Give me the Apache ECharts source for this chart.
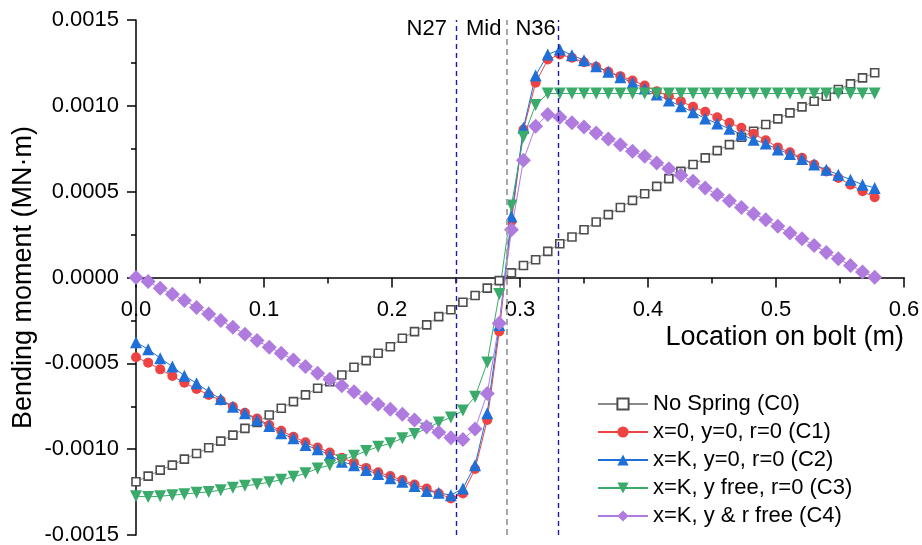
<!DOCTYPE html>
<html>
<head>
<meta charset="utf-8">
<script src="https://cdn.jsdelivr.net/npm/echarts@6/dist/echarts.min.js"></script>
<style>
html, body { margin: 0; padding: 0; background: #fff; }
#chart { width: 922px; height: 545px; }
</style>
</head>
<body>
<div id="chart"></div>
<script>
// location on bolt (m), one entry per node
const xLoc = [
  0, 0.0095, 0.0189, 0.0284, 0.0378, 0.0473, 0.0568, 0.0662, 0.0757, 0.0851,
  0.0946, 0.1041, 0.1135, 0.1230, 0.1324, 0.1419, 0.1514, 0.1608, 0.1703, 0.1798,
  0.1892, 0.1987, 0.2081, 0.2176, 0.2271, 0.2365, 0.2460, 0.2554, 0.2649, 0.2744,
  0.2838, 0.2933, 0.3027, 0.3122, 0.3217, 0.3311, 0.3406, 0.3500, 0.3595, 0.3690,
  0.3784, 0.3879, 0.3974, 0.4068, 0.4163, 0.4257, 0.4352, 0.4447, 0.4541, 0.4636,
  0.4730, 0.4825, 0.4920, 0.5014, 0.5109, 0.5203, 0.5298, 0.5393, 0.5487, 0.5582,
  0.5676, 0.5771
]

// bending moment (MN·m)
const c0 = [
  -0.001190, -0.001157, -0.001122, -0.001093, -0.001058, -0.001025, -0.000992, -0.000953, -0.000918, -0.000879,
  -0.000845, -0.000801, -0.000762, -0.000723, -0.000684, -0.000645, -0.000607, -0.000568, -0.000523, -0.000484,
  -0.000441, -0.000403, -0.000354, -0.000315, -0.000276, -0.000228, -0.000188, -0.000144, -0.000105, -0.000062,
  -0.000018, 0.000027, 0.000070, 0.000103, 0.000152, 0.000197, 0.000236, 0.000278, 0.000323, 0.000366,
  0.000408, 0.000449, 0.000488, 0.000531, 0.000576, 0.000618, 0.000658, 0.000697, 0.000739, 0.000774,
  0.000817, 0.000852, 0.000891, 0.000924, 0.000959, 0.000994, 0.001027, 0.001056, 0.001095, 0.001128,
  0.001163, 0.001193
]
const c1 = [
  -0.000465, -0.000496, -0.000535, -0.000574, -0.000613, -0.000649, -0.000684, -0.000717, -0.000753, -0.000788,
  -0.000822, -0.000859, -0.000893, -0.000928, -0.000960, -0.000990, -0.001019, -0.001050, -0.001079, -0.001109,
  -0.001135, -0.001157, -0.001180, -0.001206, -0.001229, -0.001258, -0.001287, -0.001258, -0.001116, -0.000830,
  -0.000315, 0.000327, 0.000862, 0.001134, 0.001270, 0.001299, 0.001280, 0.001254, 0.001227, 0.001198,
  0.001173, 0.001148, 0.001118, 0.001085, 0.001056, 0.001027, 0.000994, 0.000965, 0.000934, 0.000901,
  0.000872, 0.000837, 0.000800, 0.000758, 0.000729, 0.000697, 0.000658, 0.000618, 0.000580, 0.000541,
  0.000502, 0.000467
]
const c2 = [
  -0.000377, -0.000418, -0.000470, -0.000519, -0.000572, -0.000616, -0.000665, -0.000708, -0.000753, -0.000791,
  -0.000830, -0.000865, -0.000908, -0.000937, -0.000976, -0.001001, -0.001034, -0.001073, -0.001093, -0.001122,
  -0.001145, -0.001170, -0.001190, -0.001215, -0.001243, -0.001254, -0.001268, -0.001229, -0.001093, -0.000791,
  -0.000276, 0.000356, 0.000872, 0.001177, 0.001299, 0.001328, 0.001295, 0.001266, 0.001231, 0.001198,
  0.001167, 0.001134, 0.001101, 0.001066, 0.001031, 0.000998, 0.000963, 0.000926, 0.000897, 0.000866,
  0.000833, 0.000803, 0.000780, 0.000745, 0.000720, 0.000691, 0.000658, 0.000628, 0.000599, 0.000570,
  0.000541, 0.000522
]
const c3 = [
  -0.001274, -0.001278, -0.001274, -0.001268, -0.001262, -0.001254, -0.001249, -0.001239, -0.001225, -0.001213,
  -0.001205, -0.001192, -0.001178, -0.001161, -0.001141, -0.001112, -0.001093, -0.001064, -0.001039, -0.001011,
  -0.000986, -0.000966, -0.000937, -0.000912, -0.000879, -0.000844, -0.000815, -0.000775, -0.000695, -0.000495,
  -0.000096, 0.000420, 0.000820, 0.001005, 0.001072, 0.001072, 0.001072, 0.001072, 0.001072, 0.001072,
  0.001072, 0.001072, 0.001072, 0.001072, 0.001072, 0.001072, 0.001072, 0.001072, 0.001072, 0.001072,
  0.001072, 0.001072, 0.001072, 0.001072, 0.001072, 0.001072, 0.001072, 0.001072, 0.001072, 0.001072,
  0.001072, 0.001072
]
const c4 = [
  0.000000, -0.000023, -0.000062, -0.000097, -0.000134, -0.000175, -0.000212, -0.000251, -0.000290, -0.000330,
  -0.000367, -0.000406, -0.000441, -0.000480, -0.000519, -0.000558, -0.000593, -0.000630, -0.000665, -0.000704,
  -0.000739, -0.000768, -0.000797, -0.000830, -0.000869, -0.000902, -0.000933, -0.000943, -0.000883, -0.000675,
  -0.000266, 0.000278, 0.000683, 0.000881, 0.000949, 0.000934, 0.000901, 0.000877, 0.000842, 0.000807,
  0.000774, 0.000735, 0.000706, 0.000667, 0.000634, 0.000595, 0.000560, 0.000522, 0.000482, 0.000447,
  0.000408, 0.000372, 0.000337, 0.000298, 0.000259, 0.000226, 0.000187, 0.000146, 0.000109, 0.000070,
  0.000032, 0.000002
]

const seriesNames = [
  'No Spring (C0)',
  'x=0, y=0, r=0 (C1)',
  'x=K, y=0, r=0 (C2)',
  'x=K, y free, r=0 (C3)',
  'x=K, y & r free (C4)'
]

// reference lines along the bolt
const markNames = ['N27', 'Mid', 'N36']
const markX = [0.2460, 0.2886, 0.3311]

const FONT = '"Liberation Sans", Arial, sans-serif'
const GRID_TOP = 20
const GRID_BOTTOM = 10
const PLOT_H = 545 - GRID_TOP - GRID_BOTTOM

function lineSeries(name, vals, color, symbol, size, extra) {
  return Object.assign({
    name,
    type: 'line',
    data: xLoc.map((x, i) => [x, vals[i]]),
    symbol,
    symbolSize: size,
    showAllSymbol: true,
    lineStyle: { color, width: 1 },
    itemStyle: { color },
    emphasis: { disabled: true },
    z: 3,
  }, extra || {})
}

const chart = echarts.init(document.getElementById('chart'), null, { renderer: 'canvas' })

chart.setOption({
  animation: false,
  backgroundColor: '#fff',
  textStyle: { fontFamily: FONT },
  grid: { left: 136, right: 18, top: GRID_TOP, bottom: GRID_BOTTOM, containLabel: false, outerBoundsMode: 'none' },
  legend: {
    data: seriesNames,
    orient: 'vertical',
    left: 592,
    top: 388,
    itemWidth: 50,
    itemHeight: 14,
    itemGap: 6,
    textStyle: { fontSize: 22, color: '#000', fontFamily: FONT },
  },
  xAxis: {
    type: 'value',
    min: 0,
    max: 0.6,
    interval: 0.1,
    // y range is symmetric, so the zero line sits half a plot height up
    offset: -PLOT_H / 2,
    name: 'Location on bolt (m)',
    nameLocation: 'end',
    nameGap: 0,
    nameMoveOverlap: false,
    nameTextStyle: { fontSize: 27, color: '#000', align: 'right', verticalAlign: 'top', padding: [47, 0, 0, 0], fontFamily: FONT },
    axisLine: { onZero: false, lineStyle: { color: '#000', width: 1.5 } },
    axisTick: { length: 10, lineStyle: { color: '#000', width: 1.5 } },
    minorTick: { show: true, splitNumber: 2, length: 6, lineStyle: { color: '#000', width: 1.5 } },
    axisLabel: { fontSize: 22, color: '#000', margin: 21, formatter: v => v.toFixed(1), fontFamily: FONT },
    splitLine: { show: false },
  },
  yAxis: {
    type: 'value',
    min: -0.0015,
    max: 0.0015,
    interval: 0.0005,
    name: 'Bending moment (MN·m)',
    nameLocation: 'middle',
    nameGap: 99,
    nameMoveOverlap: false,
    nameTextStyle: { fontSize: 27, color: '#000', fontFamily: FONT },
    axisLine: { show: true, lineStyle: { color: '#000', width: 1.5 } },
    axisTick: { show: true, length: 9, lineStyle: { color: '#000', width: 1.5 } },
    minorTick: { show: true, splitNumber: 2, length: 5, lineStyle: { color: '#000', width: 1.5 } },
    axisLabel: { fontSize: 22, color: '#000', margin: 17, formatter: v => v.toFixed(4), fontFamily: FONT },
    splitLine: { show: false },
  },
  series: [
    lineSeries(seriesNames[0], c0, '#8a8a8a', 'rect', 8, {
      itemStyle: { color: '#fff', borderColor: '#4d4d4d', borderWidth: 1.6 },
    }),
    lineSeries(seriesNames[1], c1, '#ef4343', 'circle', 10),
    lineSeries(seriesNames[2], c2, '#1f6fd8', 'triangle', 12),
    lineSeries(seriesNames[3], c3, '#3aab6a', 'triangle', 12, { symbolRotate: 180 }),
    lineSeries(seriesNames[4], c4, '#b07bdf', 'diamond', 15),
    {
      name: 'marks',
      type: 'scatter',
      data: markX.map((x, i) => ({ value: [x, 0.001448], name: markNames[i] })),
      symbolSize: 0,
      silent: true,
      label: {
        show: true,
        position: 'left',
        distance: 4,
        formatter: p => p.name,
        fontSize: 22,
        color: '#000',
        opacity: 1,
        fontFamily: FONT,
      },
      markLine: {
        silent: true,
        symbol: ['none', 'none'],
        label: { show: false },
        data: markX.map((x, i) => ({
          xAxis: x,
          lineStyle: {
            color: markNames[i] === 'Mid' ? '#a6a6a6' : '#1a1a9c',
            width: markNames[i] === 'Mid' ? 2 : 1.4,
            type: markNames[i] === 'Mid' ? [6, 4] : [5, 4],
          },
        })),
      },
      z: 2,
    },
  ],
})
</script>
</body>
</html>
